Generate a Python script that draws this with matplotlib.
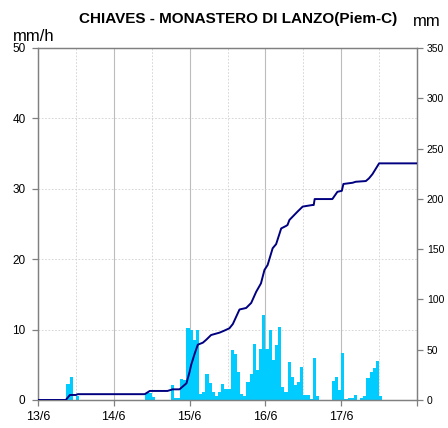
import numpy as np
import matplotlib as mpl
mpl.use('Agg')
import matplotlib.pyplot as plt

plt.rcParams['font.family'] = ['Liberation Sans', 'DejaVu Sans']

# hourly rain intensity (mm/h), hour 0 = 13/6 00:00
rain = [0, 0, 0, 0, 0, 0, 0, 0, 0, 2.3, 3.2, 0, 0.5, 0, 0, 0, 0, 0, 0, 0, 0, 0, 0, 0,
        0, 0, 0, 0, 0, 0, 0, 0, 0, 0, 1.0, 1.0, 0.4, 0, 0, 0, 0, 0, 2.1, 0.3, 0.3, 3.0, 2.8, 10.2,
        10.0, 8.5, 9.9, 0.9, 1.2, 3.7, 2.4, 1.2, 0.6, 1.2, 2.3, 1.5, 1.5, 7.1, 6.6, 4.0, 0.85, 0.5, 2.6, 3.7, 8.0, 4.3, 7.3, 12.1,
        7.3, 10.0, 5.7, 7.8, 10.4, 1.8, 1.2, 5.4, 3.2, 2.1, 2.6, 4.7, 0.7, 0.7, 0.2, 6.0, 0.5, 0, 0, 0, 0, 2.7, 3.2, 1.4,
        6.7, 0.15, 0.3, 0.3, 0.7, 0, 0.3, 0.5, 3.1, 4.0, 4.5, 5.5, 0.5, 0, 0, 0, 0, 0, 0, 0, 0, 0, 0, 0]

# cumulative rain (mm)
cum_hours = [0, 8.8, 10.1, 12.0, 12.6, 33.8, 35.4, 41.0, 42.6, 44.8, 47.0, 48.0, 48.5, 49.6, 50.6,
             52.2, 53.3, 54.8, 57.5, 59.0, 60.6, 61.7, 63.8, 65.9, 67.5, 69.1, 70.6, 71.7, 72.7,
             74.3, 75.4, 77.0, 78.5, 79.0, 79.6, 82.2, 83.8, 86.9, 87.3, 87.6, 93.2, 94.8, 96.2,
             96.7, 99.6, 100.6, 103.8, 104.8, 105.9, 108.0, 120.0]
cum_mm = [0, 0, 5.0, 5.0, 5.8, 5.8, 9.0, 9.0, 10.6, 10.6, 16.6, 28, 35, 46, 55,
          57, 60, 64.6, 67, 69, 71.3, 75.6, 90, 91.5, 96.5, 107.7, 116, 129.3, 134.2,
          150.9, 155, 170.6, 173, 174, 179, 187.4, 192.3, 193.9, 193.9, 199.8, 199.8, 207, 208,
          214.8, 216, 217, 217.7, 220.4, 224.6, 235.3, 235.3]

day_labels = ['13/6', '14/6', '15/6', '16/6', '17/6', '']

fig = plt.figure(figsize=(4.48, 4.28), dpi=100)
ax = fig.add_axes([38/448, 1-400/428, 379/448, 352/428])

hours = np.arange(len(rain))
ax.bar(hours, rain, width=1.0, align='edge', color='#00CCFF', edgecolor='none', zorder=2)

ax.set_xlim(0, 120)
ax.set_ylim(0, 50)
ax.set_xticks(np.arange(0, 121, 24))
ax.set_xticklabels(day_labels)
ax.set_yticks(np.arange(0, 51, 10))

# grid: solid at days, dotted at noon, dotted horizontals
for d in range(24, 120, 24):
    ax.axvline(d, color='#bcbcbc', lw=0.8, zorder=1)
for d in range(12, 120, 24):
    ax.axvline(d, color='#d0d0d0', lw=0.6, ls=(0, (2, 2)), zorder=1)
for v in range(10, 50, 10):
    ax.axhline(v, color='#d0d0d0', lw=0.6, ls=(0, (2, 2)), zorder=1)

for s in ax.spines.values():
    s.set_color('#808080')
    s.set_linewidth(0.9)
ax.tick_params(direction='out', length=4, width=0.9, color='#808080', pad=4)
ax.tick_params(axis='x', labelsize=9)
ax.tick_params(axis='y', labelsize=8.5, pad=5)

ax2 = ax.twinx()
ax2.plot(cum_hours, cum_mm, color='#000080', lw=1.4, zorder=3)
ax2.set_ylim(0, 350)
ax2.set_yticks(np.arange(0, 351, 50))
for s in ax2.spines.values():
    s.set_color('#808080')
    s.set_linewidth(0.9)
ax2.tick_params(direction='out', length=4, width=0.9, color='#808080', labelsize=7.5, pad=3)

fig.text(238/448, 1-19/428, 'CHIAVES - MONASTERO DI LANZO(Piem-C)', ha='center', va='center',
         fontsize=11, fontweight='bold')
fig.text(13/448, 1-41/428, 'mm/h', ha='left', va='baseline', fontsize=12)
fig.text(413/448, 1-26/428, 'mm', ha='left', va='baseline', fontsize=12)

fig.savefig('out.png', dpi=100)
